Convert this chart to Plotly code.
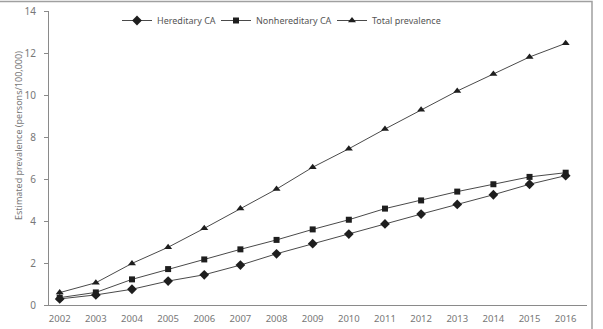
import plotly.graph_objects as go

years = [2002, 2003, 2004, 2005, 2006, 2007, 2008, 2009, 2010, 2011, 2012, 2013, 2014, 2015, 2016]
year_labels = [str(y) for y in years]
hereditary = [0.29, 0.48, 0.75, 1.14, 1.44, 1.90, 2.44, 2.92, 3.38, 3.86, 4.33, 4.79, 5.25, 5.75, 6.16]
nonhereditary = [0.35, 0.60, 1.22, 1.71, 2.17, 2.65, 3.10, 3.60, 4.06, 4.59, 4.98, 5.40, 5.75, 6.10, 6.30]
total = [0.59, 1.06, 1.98, 2.75, 3.65, 4.59, 5.52, 6.56, 7.44, 8.38, 9.30, 10.19, 11.00, 11.81, 12.46]
y_ticks = [0, 2, 4, 6, 8, 10, 12, 14]

xpos = list(range(len(years)))
line_color = "#4a4a4a"
marker_color = "#1e1e1e"
font_family = "Noto Sans, Open Sans, sans-serif"

L, R, T, B = 49, 16, 11, 24
PW, PH = 603 - L - R, 329 - T - B

def px_x(px):
    return (px - L) / PW

def px_y(py):
    return (329 - B - py) / PH

fig = go.Figure()
series = [
    ("Hereditary CA", hereditary, "diamond", 7.5, "legend", 117),
    ("Nonhereditary CA", nonhereditary, "square", 6, "legend2", 216),
    ("Total prevalence", total, "triangle-up", 7, "legend3", 332),
]
legends = {}
for name, vals, sym, sz, lg, lx in series:
    fig.add_trace(go.Scatter(
        x=xpos, y=vals, name=name, mode="lines+markers", legend=lg,
        line=dict(color=line_color, width=1),
        marker=dict(symbol=sym, size=sz, color=marker_color),
    ))
    legends[lg] = dict(x=px_x(lx), xanchor="left", y=px_y(6), yanchor="top",
                       orientation="h", font=dict(size=9, color="#555555"),
                       itemwidth=30, bgcolor="rgba(0,0,0,0)", borderwidth=0)

fig.update_layout(
    width=603, height=329,
    margin=dict(l=L, r=R, t=T, b=B, autoexpand=False),
    paper_bgcolor="white", plot_bgcolor="white",
    font=dict(family=font_family, size=10, color="#777777"),
    showlegend=True,
    **legends,
    xaxis=dict(range=[-0.296, 14.59], tickmode="array", tickvals=xpos, ticktext=year_labels,
               showgrid=False, zeroline=False, showline=True, linecolor="#8a8a8a", linewidth=1,
               automargin=False,
               ticks="", ticklabelstandoff=5, tickfont=dict(size=9.5, color="#777777")),
    yaxis=dict(range=[0, 14], tickmode="array", tickvals=y_ticks, showgrid=False, zeroline=False,
               showline=True, linecolor="#8a8a8a", linewidth=1, ticks="outside", ticklen=4,
               ticklabelstandoff=6, automargin=False,
               tickcolor="#8a8a8a", tickfont=dict(size=10, color="#777777")),
    annotations=[dict(text="Estimated prevalence (persons/100,000)", textangle=-90,
                      xref="paper", yref="paper", x=px_x(18), y=px_y(136),
                      xanchor="center", yanchor="middle", showarrow=False,
                      font=dict(size=9, color="#777777"))],
    shapes=[dict(type="rect", xref="paper", yref="paper",
                 x0=px_x(-2), x1=px_x(592), y0=px_y(340), y1=px_y(1.5),
                 line=dict(color="#a0a0a0", width=1.5), fillcolor="rgba(0,0,0,0)", layer="below")],
)

fig.write_html("out.html")
